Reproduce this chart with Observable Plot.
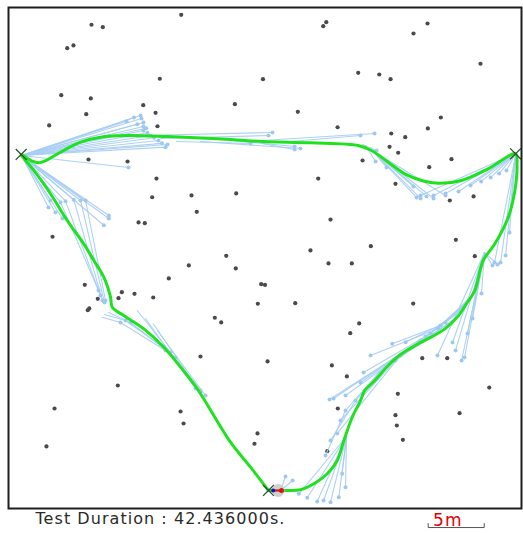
<!DOCTYPE html>
<html>
<head>
<meta charset="utf-8">
<script src="https://cdn.jsdelivr.net/npm/d3@7"></script>
<script src="https://cdn.jsdelivr.net/npm/@observablehq/plot@0.6"></script>
<style>
  html, body { margin: 0; padding: 0; background: #fff; }
  #chart svg { display: block; }
</style>
</head>
<body>
<div id="chart"></div>
<script>
// All positions are in metres (world frame, origin at bottom-left of the map)
const landmarks = [
[15.42,44.08],[7.41,43.19],[8.42,42.97],[5.24,41.10],[5.80,41.34],[13.51,38.37],[4.71,36.90],[7.35,36.61],
[12.03,36.01],[6.94,35.21],[13.13,35.33],[3.63,34.20],[13.30,34.13],[20.21,36.10],[22.72,38.33],[28.37,43.42],
[28.10,43.06],[37.41,43.30],[36.16,42.41],[42.14,39.71],[31.22,38.90],[33.10,38.75],[34.11,38.33],[25.83,35.42],
[38.60,34.91],[29.38,34.04],[37.44,33.93],[7.14,31.16],[10.63,30.98],[13.21,29.46],[12.83,27.79],[16.34,27.95],
[20.33,28.13],[16.81,26.49],[11.61,25.54],[12.17,25.47],[3.93,24.26],[19.44,22.56],[34.17,33.48],[35.42,33.15],
[34.02,32.29],[34.79,31.76],[31.61,31.07],[39.55,31.19],[37.56,30.47],[27.65,29.46],[34.55,28.99],[39.40,27.50],
[41.52,27.86],[28.75,25.80],[39.94,23.99],[26.96,23.04],[32.35,23.42],[41.63,22.53],[16.10,21.70],[20.29,21.43],
[14.31,20.54],[6.81,19.97],[22.56,20.03],[22.90,19.96],[10.12,19.31],[11.25,19.17],[12.92,18.84],[7.97,18.72],
[9.82,18.78],[7.08,17.71],[7.21,17.86],[22.26,18.28],[18.42,17.03],[18.99,16.61],[17.14,13.57],[9.76,10.98],
[28.57,21.88],[30.65,21.88],[25.60,18.33],[36.13,18.30],[31.31,16.52],[30.51,15.65],[23.13,13.13],[28.87,12.77],
[30.21,11.79],[36.94,13.42],[39.17,13.42],[42.92,10.80],[29.40,8.93],[34.76,10.24],[34.55,8.33],[40.27,8.51],
[34.67,7.41],[35.21,6.13],[21.96,5.78],[28.46,5.12],[4.11,8.93],[3.39,5.54],[15.36,8.66],[15.63,7.59],[22.23,6.70]
];

// Executed trajectory (green)
const pathPoints = [
[23.21,1.61],[24.55,1.61],[26.07,1.67],[27.26,2.21],[28.46,3.10],[29.35,4.29],[29.94,6.07],[30.69,8.15],
[31.43,9.64],[31.81,10.54],[32.71,11.43],[33.90,12.77],[35.09,13.81],[36.88,14.85],[38.96,16.04],[40.18,17.23],
[40.96,18.39],[41.63,19.46],[42.38,22.14],[43.42,23.63],[44.62,26.01],[45.21,28.39],[45.40,30.63],[45.27,31.67],
[42.83,30.33],[40.45,29.29],[38.37,29.04],[36.88,29.29],[35.38,29.88],[33.90,30.92],[32.41,31.96],[31.22,32.41],
[27.05,32.65],[22.68,32.77],[18.63,33.01],[14.17,33.21],[10.60,33.30],[8.21,33.15],[6.43,32.71],[4.64,31.81],
[3.46,31.13],[2.71,30.87],[2.12,31.01],[1.13,31.61],[2.26,30.18],[3.75,28.10],[5.24,25.71],[6.72,23.63],
[7.62,22.14],[8.51,20.65],[9.11,18.87],[9.26,17.97],[10.29,17.23],[12.08,16.04],[13.87,14.40],[15.36,12.62],
[16.85,10.69],[19.82,5.92],[21.61,3.69],[23.21,1.61]
];

// Waypoints (X marks)
const waypoints = [[1.13,31.61],[45.27,31.67],[23.21,1.61]];

// Robot pose at the end of the test: body centre, rear point, front point
const robotBody = [[24.07,1.61]];
const robotHeading = [[23.63,1.61],[24.37,1.61]];

// Predicted trajectories (light blue), each a polyline
const predictions = [
// top-left corner, to the right
[[1.16,31.52],[10.54,34.58]],[[1.16,31.52],[11.79,35.09]],[[1.16,31.52],[11.88,34.82]],[[1.16,31.52],[12.05,34.46]],
[[1.16,31.52],[12.05,34.11]],[[1.16,31.52],[12.05,33.75]],[[1.16,31.52],[12.68,33.30]],[[1.16,31.52],[13.39,32.86]],
[[1.16,31.52],[14.02,32.26]],[[1.16,31.52],[14.20,32.50]],[[1.16,31.52],[10.71,30.45]],
[[1.16,31.52],[11.20,34.90]],[[1.16,31.52],[12.30,33.95]],[[1.16,31.52],[13.00,33.10]],[[1.16,31.52],[13.70,32.60]],
[[1.16,31.52],[11.50,34.30]],[[1.16,31.52],[12.40,33.55]],
// along the top
[[11.79,33.30],[23.57,33.57]],[[13.57,33.04],[23.21,33.30]],[[15.00,32.77],[21.61,32.59]],[[17.14,32.77],[26.07,32.14]],
[[19.82,32.86],[25.54,32.32]],[[22.59,32.86],[32.68,33.48]],[[25.18,32.77],[31.43,33.30]],[[22.59,32.59],[25.54,32.05]],
// top-right bend
[[32.50,31.96],[36.16,28.75]],[[32.50,31.96],[36.43,27.77]],[[32.50,31.96],[36.79,27.68]],[[32.50,31.96],[37.32,27.86]],
[[32.50,31.96],[37.95,27.68]],[[32.50,31.96],[39.02,27.95]],[[32.50,31.96],[33.75,30.45]],
[[31.88,32.41],[32.77,30.98]],[[31.61,32.50],[32.86,31.96]],
[[45.27,31.70],[44.46,30.18]],[[45.27,31.70],[43.04,29.55]],[[45.27,31.70],[41.25,28.84]],[[45.27,31.70],[40.18,28.30]],
[[45.27,31.70],[39.02,28.13]],[[45.27,31.70],[37.95,27.95]],[[45.27,31.70],[36.79,27.95]],
[[45.27,31.70],[42.20,29.20]],[[45.27,31.70],[43.80,29.90]],
// right side, going down
[[45.27,31.52],[43.39,21.96]],[[45.27,31.52],[43.93,21.96]],[[45.27,31.52],[44.38,22.59]],[[45.27,31.52],[44.73,24.64]],
[[42.50,22.86],[43.66,21.79]],[[42.50,22.86],[43.21,21.70]],[[42.50,22.86],[42.23,19.20]],[[42.50,22.86],[41.43,16.96]],
[[42.50,22.86],[40.98,15.63]],[[42.50,22.86],[40.71,13.48]],[[42.50,22.86],[40.45,13.21]],[[42.50,22.86],[39.64,14.82]],
[[42.50,22.86],[38.30,13.66]],[[42.50,22.86],[39.91,14.11]],
// right-lower bend
[[41.25,18.84],[39.02,16.61],[35.45,14.85]],[[41.25,18.84],[38.57,16.34],[34.26,14.71]],
[[41.07,18.57],[38.39,16.07],[32.32,13.66]],[[40.89,18.30],[37.68,15.63],[31.70,12.14]],
[[40.80,18.13],[37.23,15.36],[31.43,11.25]],[[40.54,17.86],[36.79,15.00],[29.02,9.82]],
[[40.54,17.86],[36.61,14.82],[28.66,9.73]],[[40.36,17.68],[35.89,14.29],[30.09,10.09]],
[[39.91,16.96],[35.00,13.66],[29.35,6.70]],[[39.91,16.96],[34.55,13.21],[29.64,7.86]],
[[33.66,12.77],[30.98,9.64],[28.75,6.07]],[[33.21,12.32],[30.09,8.75],[28.30,4.73]],
// bottom bend
[[30.18,6.43],[25.92,1.31]],[[30.18,6.43],[26.67,0.96]],[[30.18,6.43],[27.56,0.63]],[[30.18,6.43],[28.13,0.71]],
[[30.18,6.43],[28.75,0.56]],[[30.18,6.43],[29.49,1.01]],[[30.18,6.43],[30.09,1.90]],[[30.18,6.43],[29.79,3.10]],
[[24.29,1.61],[24.73,2.86]],[[24.29,1.61],[25.36,2.50]],
// left kink
[[8.37,17.08],[10.00,16.61],[14.02,14.11]],[[8.57,17.32],[10.45,16.79],[14.46,13.93]],
[[8.93,17.50],[10.89,16.61],[14.91,13.48]],
[[11.49,17.68],[17.14,10.54]],[[12.23,16.96],[16.70,10.71]],[[12.92,16.49],[17.14,10.36]],[[13.28,15.89],[17.59,10.09]],
// top-left corner, going down
[[1.16,31.52],[8.96,26.16]],[[1.16,31.52],[8.96,25.89]],[[1.16,31.52],[8.51,25.29]],
[[1.16,31.52],[3.75,27.50]],[[1.16,31.52],[3.57,26.88]],[[1.16,31.52],[4.20,26.43]],[[1.16,31.52],[4.82,25.89]],
[[1.16,31.52],[4.64,27.35],[8.04,19.46]],[[1.16,31.52],[5.09,27.44],[8.21,19.02]],
[[1.16,31.52],[5.83,27.56],[8.39,18.57]],[[1.16,31.52],[6.43,27.50],[8.57,18.39]],
[[1.16,31.52],[6.88,27.50],[8.66,18.57]]
];

// Scale bar (5 m) and caption
const scaleBarStart = 37.47, scaleBarLength = 5;
const scaleLabel = "5m";
const caption = "Test Duration : 42.436000s.";

const predLines = predictions.flatMap((pl, i) => pl.map(([x, y]) => ({x, y, id: i})));
const predDots = predictions.flatMap((pl, i) => pl.slice(1).map(([x, y]) => ({x, y})));
const bar = [
  {x: scaleBarStart, y: -1.34}, {x: scaleBarStart, y: -1.70},
  {x: scaleBarStart + scaleBarLength, y: -1.70}, {x: scaleBarStart + scaleBarLength, y: -1.34}
];

const chart = Plot.plot({
  width: 523, height: 533,
  marginLeft: 8, marginRight: 2, marginTop: 7, marginBottom: 25,
  x: {domain: [0, 45.80], axis: null},
  y: {domain: [0, 44.73], axis: null},
  style: {background: "#fff"},
  marks: [
    Plot.dot(landmarks, {x: d => d[0], y: d => d[1], r: 2.1, fill: "#4a4a4a", stroke: "none"}),
    Plot.line(predLines, {x: "x", y: "y", z: "id", stroke: "#a9cff3", strokeWidth: 1.1, strokeOpacity: 0.95}),
    Plot.dot(predDots, {x: "x", y: "y", r: 2, fill: "#9fc8f0", stroke: "none"}),
    Plot.line(pathPoints, {x: d => d[0], y: d => d[1], stroke: "#1fe21f", strokeWidth: 3, curve: "catmull-rom"}),
    Plot.dot(waypoints, {x: d => d[0], y: d => d[1], symbol: "times", r: 5, stroke: "#2c4f2c", strokeWidth: 1.3}),
    Plot.dot(robotBody, {x: d => d[0], y: d => d[1], r: 6.5, fill: "#c4c4c4", fillOpacity: 0.8, stroke: "none"}),
    Plot.line(robotHeading, {x: d => d[0], y: d => d[1], stroke: "#e01010", strokeWidth: 2}),
    Plot.dot([robotHeading[0]], {x: d => d[0], y: d => d[1], r: 2, fill: "#1010d0"}),
    Plot.dot([robotHeading[1]], {x: d => d[0], y: d => d[1], r: 2.5, fill: "#e01010"}),
    Plot.frame({stroke: "#1e1e1e", strokeWidth: 2}),
    Plot.line(bar, {x: "x", y: "y", stroke: "#555", strokeWidth: 1}),
    Plot.text([scaleLabel], {x: scaleBarStart + 1.75, y: -1.05, text: d => d, fill: "#e00000",
      fontSize: 17, fontFamily: "DejaVu Sans", textAnchor: "middle"}),
    Plot.text([caption], {frameAnchor: "bottom-left", dx: 27, dy: 15, text: d => d, fill: "#2a2a2a",
      fontSize: 16, fontFamily: "DejaVu Sans", textAnchor: "start"})
  ]
});
d3.select(chart).selectAll("text").filter(function () { return this.textContent === caption; })
  .attr("letter-spacing", "1.05");
d3.select(chart).selectAll("text").filter(function () { return this.textContent === scaleLabel; })
  .attr("letter-spacing", "1");
document.getElementById("chart").append(chart);
</script>
</body>
</html>
